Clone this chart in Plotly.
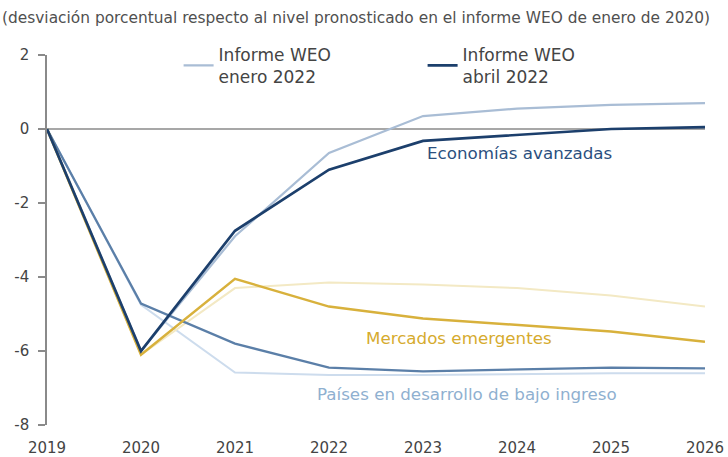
import plotly.graph_objects as go

years = [2019, 2020, 2021, 2022, 2023, 2024, 2025, 2026]

ae_jan = [0, -6.0, -2.9, -0.65, 0.35, 0.55, 0.65, 0.7]
ae_apr = [0, -6.0, -2.75, -1.1, -0.32, -0.15, 0.0, 0.05]
em_jan = [0, -6.1, -4.3, -4.15, -4.2, -4.3, -4.5, -4.8]
em_apr = [0, -6.1, -4.05, -4.8, -5.12, -5.3, -5.47, -5.75]
lidc_jan = [0, -4.75, -6.58, -6.65, -6.65, -6.62, -6.6, -6.6]
lidc_apr = [0, -4.72, -5.8, -6.45, -6.55, -6.5, -6.45, -6.47]

y_ticks = [2, 0, -2, -4, -6, -8]
y_labels = ["2", "0", "-2", "-4", "-6", "-8"]

subtitle = "(desviación porcentual respecto al nivel pronosticado en el informe WEO de enero de 2020)"
legend_names = ["Informe WEO<br>enero 2022", "Informe WEO<br>abril 2022"]
series_labels = ["Economías avanzadas", "Mercados emergentes", "Países en desarrollo de bajo ingreso"]

FONT = "DejaVu Sans"

fig = go.Figure()

def add(y, color, width, name=None, show=False):
    fig.add_trace(go.Scatter(x=years, y=y, mode="lines",
                             line=dict(color=color, width=width),
                             name=name if name else "", showlegend=show,
                             hoverinfo="skip"))

add(lidc_jan, "#cddced", 2)
add(em_jan, "#f3e9c4", 2)
add(ae_jan, "#a9bdd5", 2.2, legend_names[0], True)
add(lidc_apr, "#5b7fa8", 2.3)
add(em_apr, "#d8b13c", 2.5)
add(ae_apr, "#1c3f6c", 2.7, legend_names[1], True)

fig.add_hline(y=0, line=dict(color="#8a8a8a", width=1.5), layer="below")

fig.add_annotation(x=-47 / 658, y=(425 - 18) / 370, xref="paper", yref="paper",
                   showarrow=False, text=subtitle,
                   font=dict(family=FONT, size=15.4, color="#505050"),
                   xanchor="left", yanchor="middle")

label_pos = [(2024.03, -0.65, "#2b4f7e"),
             (2023.38, -5.65, "#d6ab2e"),
             (2023.47, -7.16, "#8fb0d0")]
for (x, y, c), t in zip(label_pos, series_labels):
    fig.add_annotation(x=x, y=y, text=t, showarrow=False,
                       font=dict(family=FONT, size=16.7, color=c))

fig.update_layout(
    width=728, height=457,
    margin=dict(l=47, r=23, t=55, b=32),
    plot_bgcolor="white", paper_bgcolor="white",
    font=dict(family=FONT, size=15, color="#444444"),
    legend=dict(orientation="h", x=0.200, y=1.049, xanchor="left", yanchor="top",
                font=dict(family=FONT, size=17, color="#444444"),
                entrywidth=199, entrywidthmode="pixels",
                bgcolor="rgba(0,0,0,0)", tracegroupgap=0),
    xaxis=dict(range=[2019, 2026], tickvals=years, ticktext=[str(y) for y in years],
               showgrid=False, zeroline=False, showline=False, ticks="",
               ticklabelstandoff=12, tickfont=dict(size=15), automargin=False),
    yaxis=dict(range=[-8, 2], tickvals=y_ticks, ticktext=y_labels,
               showgrid=False, zeroline=False, showline=True, linecolor="#8a8a8a",
               linewidth=1.5, ticks="outside", ticklen=7, tickcolor="#8a8a8a",
               tickwidth=1.5, ticklabelstandoff=6, tickfont=dict(size=15),
               automargin=False),
)

fig.write_html("out.html", config={"displayModeBar": False},
               post_script="document.body.style.margin='0px';document.body.style.overflow='hidden';")
